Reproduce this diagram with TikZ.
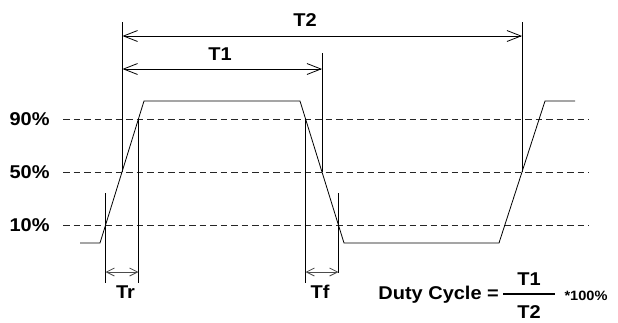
\documentclass[tikz,border=0pt]{standalone}
\usepackage{fontspec}
\setmainfont[FakeStretch=1.08]{Liberation Sans}
\usepackage{tikz}
\usetikzlibrary{arrows.meta}
\tikzstyle{level} = [dash pattern=on 6.5pt off 4pt, black!85]
\tikzstyle{span} = [{Straight Barb[length=14pt,width=11pt]}-{Straight Barb[length=14pt,width=11pt]}]
\tikzstyle{edgespan} = [{Straight Barb[length=8pt,width=8pt]}-{Straight Barb[length=8pt,width=8pt]}, black!70]
\tikzstyle{lbl} = [font=\bfseries\fontsize{18.5}{21}\selectfont, inner sep=0pt]

\begin{document}
\begin{tikzpicture}[x=1pt,y=-1pt,line width=0.8pt]
		\useasboundingbox (0,0) rectangle (618,322);
		\foreach \y/\p in {119/90,172/50,225/10}{
			\draw[level] (63,\y) -- (589,\y);
			\node[lbl,anchor=east] (p\p) at (50,\y) {\p\%};
		}
		\draw (80,243) -- (100,243) -- (144,101) -- (300,101) -- (344,243) -- (499,243) -- (545,101) -- (575,101);
		\coordinate (r10) at (105.5,225);
		\coordinate (r50) at (122.5,172);
		\coordinate (r90) at (138.5,119);
		\coordinate (f90) at (305.5,119);
		\coordinate (f50) at (322,172);
		\coordinate (f10) at (338.5,225);
		\coordinate (s50) at (522,172);
		\draw (r50) -- (r50 |- 0,22);
		\draw (s50) -- (s50 |- 0,22);
		\draw (f50) -- (f50 |- 0,53);
		\draw (r90) -- (r90 |- 0,283);
		\draw (f90) -- (f90 |- 0,283);
		\draw (r10 |- 0,193) -- (r10 |- 0,283);
		\draw (f10 |- 0,193) -- (f10 |- 0,273);
		\draw[span] (r50 |- 0,36) -- (s50 |- 0,36);
		\draw[span] (r50 |- 0,69) -- (f50 |- 0,69);
		\draw[edgespan] (r10 |- 0,272) -- (r90 |- 0,272);
		\draw[edgespan] (f90 |- 0,272) -- (f10 |- 0,272);
		\node[lbl] (T2) at (305,20) {T2};
		\node[lbl] (T1) at (220,54) {T1};
		\node[lbl] (Tr) at (125.5,292) {Tr};
		\node[lbl] (Tf) at (320,292) {Tf};
		\node[lbl,anchor=base west] (duty) at (378,299) {Duty Cycle =};
		\node[lbl] (num) at (529,279) {T1};
		\node[lbl] (den) at (529,312) {T2};
		\coordinate (barl) at (503,294);
		\coordinate (barr) at (555,294);
		\draw[line width=1.3pt] (barl) -- (barr);
		\node[font=\bfseries\fontsize{13.5}{15}\selectfont, inner sep=0pt] (pct) at (586,296) {*100\%};
	\end{tikzpicture}
\end{document}
